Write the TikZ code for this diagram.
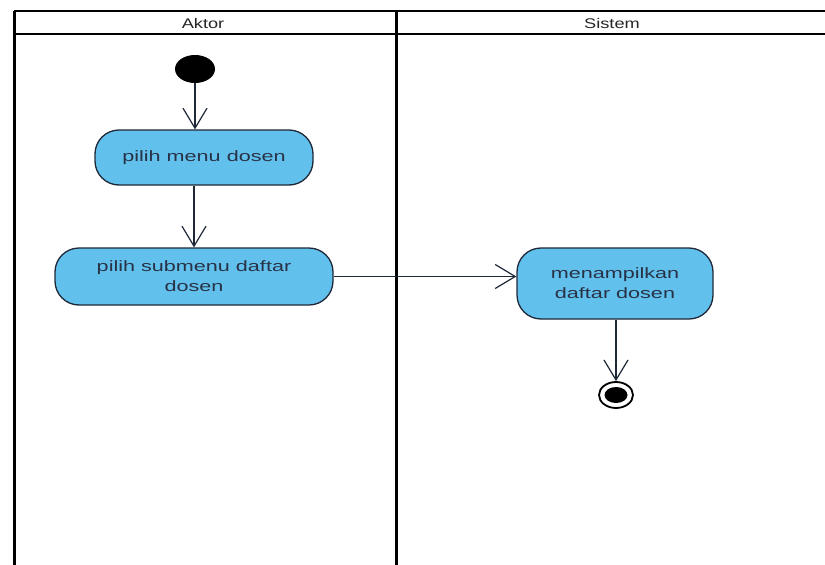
\documentclass[tikz,border=0pt]{standalone}
\usepackage{fontspec}
\usetikzlibrary{arrows.meta,shapes.geometric}
\newfontfamily\lanefont{Liberation Sans}[FakeStretch=1.44]
\newfontfamily\headfont{Liberation Sans}[FakeStretch=1.3]
\definecolor{actfill}{RGB}{98,192,236}
\definecolor{actline}{RGB}{30,40,55}
\definecolor{acttext}{RGB}{40,50,70}
\begin{document}
\begin{tikzpicture}[x=1pt,y=-1pt,
  lanerule/.style={line width=3pt,black},
  headrule/.style={line width=2.2pt,black},
  headtxt/.style={font=\headfont\fontsize{14}{16}\selectfont,text=black!85,inner sep=0pt},
  activity/.style={rectangle,rounded corners=24pt,draw=actline,fill=actfill,line width=1.3pt,
    align=center,font=\lanefont\fontsize{15}{20}\selectfont,text=acttext,inner sep=0pt},
  flow/.style={line width=1.2pt,actline,-{Straight Barb[length=20pt,width=24pt,line width=1.2pt]}},
  initnode/.style={ellipse,fill=black,minimum width=40pt,minimum height=28pt,inner sep=0pt},
  finalring/.style={ellipse,draw=black,line width=1.8pt,fill=white,minimum width=34pt,minimum height=26pt,inner sep=0pt},
  finaldot/.style={ellipse,fill=black,minimum width=23pt,minimum height=16pt,inner sep=0pt}]
\useasboundingbox (0,0) rectangle (825,565);
\fill[white] (0,0) rectangle (825,565);
% swimlanes
\draw[headrule] (14,11) -- (835,11);
\draw[headrule] (14,34) -- (835,34);
\draw[lanerule] (14,11) -- (14,570);
\draw[lanerule] (396,11) -- (396,570);
\node[headtxt] (hA) at (203,23) {Aktor};
\node[headtxt] (hS) at (612,23) {Sistem};
% nodes
\node[initnode] (st) at (195,69) {};
\node[activity,minimum width=218pt,minimum height=55pt] (n1) at (204,157.5) {pilih menu dosen};
\node[activity,minimum width=278pt,minimum height=57pt] (n2) at (194,276.5) {pilih submenu daftar\\dosen};
\node[activity,minimum width=196pt,minimum height=71pt] (n3) at (615,283.5) {menampilkan\\daftar dosen};
\node[finalring] (fin) at (616,395) {};
\node[finaldot] (find) at (fin.center) {};
% connectors
\draw[flow] (st.south) -- (st.south |- n1.north);
\draw[flow] (n2.north |- n1.south) -- (n2.north);
\draw[flow] (n2.east) -- (n3.west |- n2.east);
\draw[flow] (n3.south -| fin.north) -- (fin.north);
\end{tikzpicture}
\end{document}
